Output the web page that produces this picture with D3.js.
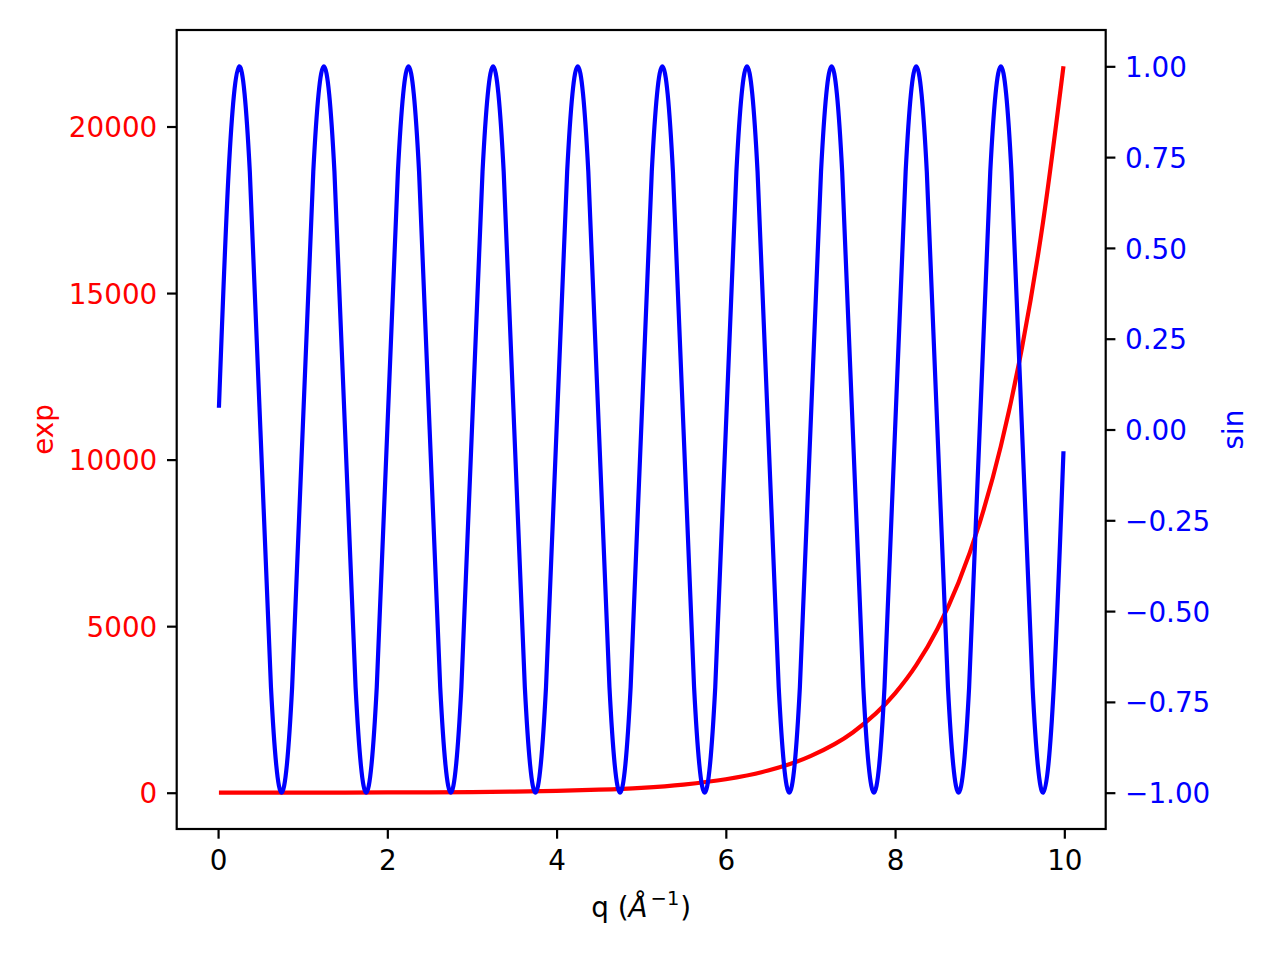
<!DOCTYPE html>
<html>
<head>
<meta charset="utf-8">
<script src="https://cdn.jsdelivr.net/npm/d3@7"></script>
<style>
  html, body { margin: 0; padding: 0; background: #fff; }
  svg { display: block; }
  text { font-family: "DejaVu Sans", sans-serif; }
</style>
</head>
<body>
<svg id="chart" width="1280" height="960"></svg>
<script>
// ---- data ----
const expQ = [0.01, 0.5, 1, 1.5, 2, 2.5, 3, 3.5, 4, 4.5, 5, 5.5, 6, 6.5, 7, 7.5, 8, 8.25, 8.5, 8.75, 9, 9.25, 9.5, 9.75, 9.99];
const expValues = [1.01, 1.65, 2.72, 4.48, 7.39, 12.2, 20.1, 33.1, 54.6, 90.0, 148, 245, 403, 665, 1097, 1808, 2981, 3828, 4915, 6310, 8103, 10405, 13360, 17154, 21807];

const sinQ = [0.01,
  0.125, 0.25, 0.375, 0.5, 0.625, 0.75, 0.875, 1.0,
  1.125, 1.25, 1.375, 1.5, 1.625, 1.75, 1.875, 2.0,
  2.125, 2.25, 2.375, 2.5, 2.625, 2.75, 2.875, 3.0,
  3.125, 3.25, 3.375, 3.5, 3.625, 3.75, 3.875, 4.0,
  4.125, 4.25, 4.375, 4.5, 4.625, 4.75, 4.875, 5.0,
  5.125, 5.25, 5.375, 5.5, 5.625, 5.75, 5.875, 6.0,
  6.125, 6.25, 6.375, 6.5, 6.625, 6.75, 6.875, 7.0,
  7.125, 7.25, 7.375, 7.5, 7.625, 7.75, 7.875, 8.0,
  8.125, 8.25, 8.375, 8.5, 8.625, 8.75, 8.875, 9.0,
  9.125, 9.25, 9.375, 9.5, 9.625, 9.75, 9.875, 9.99];
const sinValues = [0.06,
  0.71, 1.0, 0.71, 0.0, -0.71, -1.0, -0.71, 0.0,
  0.71, 1.0, 0.71, 0.0, -0.71, -1.0, -0.71, 0.0,
  0.71, 1.0, 0.71, 0.0, -0.71, -1.0, -0.71, 0.0,
  0.71, 1.0, 0.71, 0.0, -0.71, -1.0, -0.71, 0.0,
  0.71, 1.0, 0.71, 0.0, -0.71, -1.0, -0.71, 0.0,
  0.71, 1.0, 0.71, 0.0, -0.71, -1.0, -0.71, 0.0,
  0.71, 1.0, 0.71, 0.0, -0.71, -1.0, -0.71, 0.0,
  0.71, 1.0, 0.71, 0.0, -0.71, -1.0, -0.71, 0.0,
  0.71, 1.0, 0.71, 0.0, -0.71, -1.0, -0.71, 0.0,
  0.71, 1.0, 0.71, 0.0, -0.71, -1.0, -0.71, -0.06];

const xTicks = [0, 2, 4, 6, 8, 10];
const leftTicks = [0, 5000, 10000, 15000, 20000];
const rightTicks = [-1.0, -0.75, -0.5, -0.25, 0.0, 0.25, 0.5, 0.75, 1.0];
const xLabelParts = ["q (", "Å", "−1", ")"];
const leftLabel = "exp";
const rightLabel = "sin";

// ---- layout ----
const L = 176.7, R = 1105.7, T = 30, B = 829;
const FS = 27.8, TICK = 9.7, PAD = 9.7, SW = 2.2, LW = 4.2;

const xMin = 0.01, xMax = 9.99, xm = (xMax - xMin) * 0.05;
const x = d3.scaleLinear().domain([xMin - xm, xMax + xm]).range([L, R]);
const eMin = d3.min(expValues), eMax = d3.max(expValues), em = (eMax - eMin) * 0.05;
const yL = d3.scaleLinear().domain([eMin - em, eMax + em]).range([B, T]);
const yR = d3.scaleLinear().domain([-1.1, 1.1]).range([B, T]);

const svg = d3.select("#chart");

// exp line (drawn first)
const expLine = d3.line().x((d, i) => x(expQ[i])).y(d => yL(d)).curve(d3.curveMonotoneX);
svg.append("path").attr("d", expLine(expValues))
  .attr("fill", "none").attr("stroke", "#ff0000").attr("stroke-width", LW)
  .attr("stroke-linejoin", "round").attr("stroke-linecap", "butt");

// sin line (twin axis, on top)
const sinLine = d3.line().x((d, i) => x(sinQ[i])).y(d => yR(d)).curve(d3.curveNatural);
svg.append("path").attr("d", sinLine(sinValues))
  .attr("fill", "none").attr("stroke", "#0000ff").attr("stroke-width", LW)
  .attr("stroke-linejoin", "round").attr("stroke-linecap", "butt");

// spines
svg.append("rect").attr("x", L).attr("y", T).attr("width", R - L).attr("height", B - T)
  .attr("fill", "none").attr("stroke", "#000").attr("stroke-width", SW);

// axes using d3 axis generators
function styleAxis(g, color) {
  g.select(".domain").remove();
  g.selectAll(".tick line").attr("stroke", "#000").attr("stroke-width", SW);
  g.selectAll(".tick text").attr("fill", color).attr("font-size", FS)
    .attr("font-family", "DejaVu Sans, sans-serif");
}

const fmtMinus = s => s.replace("-", "\u2212");

const gx = svg.append("g").attr("transform", `translate(0,${B})`)
  .call(d3.axisBottom(x).tickValues(xTicks).tickSize(TICK).tickPadding(PAD).tickFormat(d3.format("d")));
styleAxis(gx, "#000");
gx.selectAll(".tick text").attr("dy", null).attr("y", TICK + PAD + 21.5);

const gl = svg.append("g").attr("transform", `translate(${L},0)`)
  .call(d3.axisLeft(yL).tickValues(leftTicks).tickSize(TICK).tickPadding(PAD).tickFormat(d3.format("d")));
styleAxis(gl, "#ff0000");
gl.selectAll(".tick text").attr("dy", null).attr("y", 10.1);

const gr = svg.append("g").attr("transform", `translate(${R},0)`)
  .call(d3.axisRight(yR).tickValues(rightTicks).tickSize(TICK).tickPadding(PAD)
    .tickFormat(d => fmtMinus(d3.format(".2f")(d))));
styleAxis(gr, "#0000ff");
gr.selectAll(".tick text").attr("dy", null).attr("y", 10.1);

// axis labels
const xl = svg.append("text").attr("x", (L + R) / 2).attr("y", 916.5)
  .attr("text-anchor", "middle").attr("font-size", FS).attr("fill", "#000");
xl.append("tspan").text(xLabelParts[0]);
xl.append("tspan").attr("font-style", "italic").text(xLabelParts[1]);
xl.append("tspan").attr("font-size", FS * 0.7).attr("dx", 3).attr("dy", -12).text(xLabelParts[2]);
xl.append("tspan").attr("dy", 12).attr("dx", 1).text(xLabelParts[3]);

svg.append("text").attr("transform", `translate(53,${(T + B) / 2}) rotate(-90)`)
  .attr("text-anchor", "middle").attr("font-size", FS).attr("fill", "#ff0000").text(leftLabel);
svg.append("text").attr("transform", `translate(1243,${(T + B) / 2}) rotate(-90)`)
  .attr("text-anchor", "middle").attr("font-size", FS).attr("fill", "#0000ff").text(rightLabel);
</script>
</body>
</html>
